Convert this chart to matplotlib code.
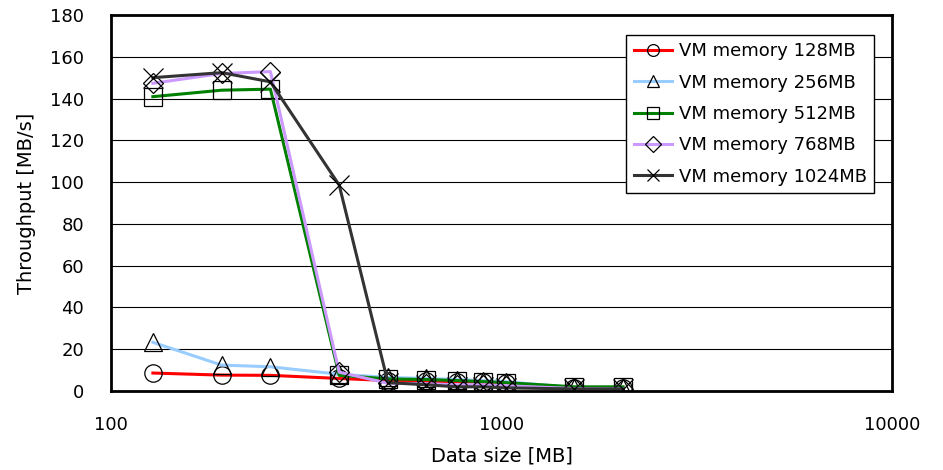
import matplotlib
matplotlib.use("Agg")
import matplotlib.pyplot as plt

plt.rcParams['font.family'] = ['DejaVu Sans']

data_size = [128, 192, 256, 384, 512, 640, 768, 896, 1024, 1536, 2048]
labels = ["VM memory 128MB", "VM memory 256MB", "VM memory 512MB",
          "VM memory 768MB", "VM memory 1024MB"]
vm128 = [8.6, 7.6, 7.5, 6.0, 5.0, 4.6, 4.5, 4.2, 4.0, 1.6, 1.5]
vm256 = [23.3, 12.4, 11.6, 8.0, 6.5, 6.0, 5.5, 5.0, 4.5, 1.6, 1.5]
vm512 = [140.9, 144.0, 144.5, 7.5, 5.8, 5.5, 5.0, 4.5, 4.0, 2.0, 2.0]
vm768 = [147.3, 152.0, 152.9, 9.0, 3.7, 3.5, 3.0, 3.0, 2.5, 1.2, 1.0]
vm1024 = [150.0, 152.4, 148.0, 98.6, 4.0, 3.0, 2.0, 2.0, 1.5, 1.0, 1.0]

series = [vm128, vm256, vm512, vm768, vm1024]
colors = ['#ff0000', '#99ccff', '#008000', '#cc99ff', '#333333']
markers = ['o', '^', 's', 'D', 'x']
msizes = [12.5, 13, 12.5, 10, 15]

fig = plt.figure(figsize=(9.43, 4.70), dpi=100)
ax = fig.add_axes([111/943, 1-391/470, (892-111)/943, (391-15)/470])

for ys, c, m, ms, lab in zip(series, colors, markers, msizes, labels):
    ax.plot(data_size, ys, color=c, linewidth=2.2, marker=m, markersize=ms,
            markerfacecolor='none', markeredgecolor='black', markeredgewidth=0.9,
            label=lab)

ax.set_xscale('log')
ax.set_xlim(100, 10000)
ax.set_ylim(0, 180)
ax.set_yticks(range(0, 181, 20))
ax.set_xticks([100, 1000, 10000])
ax.set_xticklabels(['100', '1000', '10000'])
ax.xaxis.set_minor_locator(matplotlib.ticker.NullLocator())
ax.tick_params(axis='x', length=0, labelsize=13, pad=18)
ax.tick_params(axis='y', length=0, labelsize=13, pad=19.5)
ax.yaxis.grid(True, color='black', linewidth=0.8)
ax.set_axisbelow(True)
for s in ax.spines.values():
    s.set_linewidth(2)
    s.set_color('black')

ax.set_xlabel('Data size [MB]', fontsize=14, labelpad=9)
ax.set_ylabel('Throughput [MB/s]', fontsize=14, labelpad=10)

leg = ax.legend(loc='upper right', bbox_to_anchor=(874/943, 1-35/470),
                bbox_transform=fig.transFigure, fontsize=13, frameon=True,
                fancybox=False, edgecolor='black', framealpha=1,
                borderpad=0.4, labelspacing=0.74, handlelength=2.1,
                handletextpad=0.4, borderaxespad=0)
leg.get_frame().set_linewidth(1)
for h in leg.legend_handles:
    h.set_markersize(8.5)

fig.savefig('out.png', dpi=100)
